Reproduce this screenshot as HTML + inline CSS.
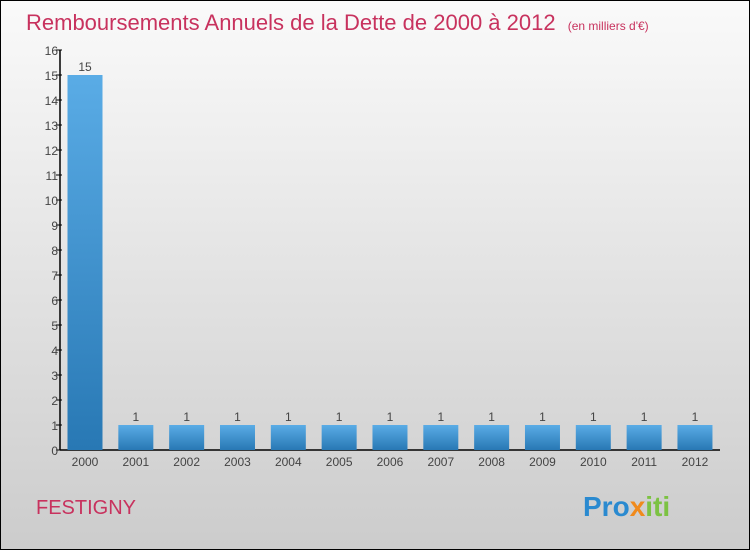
<!DOCTYPE html>
<html><head><meta charset="utf-8"><style>
body{margin:0}
#c{width:750px;height:550px;position:relative;box-sizing:border-box;border:1px solid #000;background:linear-gradient(#fafafa,#cccccc);font-family:"Liberation Sans",sans-serif;overflow:hidden}
</style></head><body>
<div id="c">
<svg width="750" height="550" style="position:absolute;left:-1px;top:-1px">
<defs><linearGradient id="g" x1="0" y1="0" x2="0" y2="1"><stop offset="0" stop-color="#5aace6"/><stop offset="1" stop-color="#2878b4"/></linearGradient></defs>
<text x="26" y="30" font-size="22" fill="#c8325e">Remboursements Annuels de la Dette de 2000 à 2012 <tspan font-size="12" dx="6">(en milliers d'€)</tspan></text>
<g id="ax"></g><g id="bars"></g>
<text x="36" y="514" font-size="20" fill="#c8325e">FESTIGNY</text>
<text x="583" y="516" font-size="28" font-weight="bold" fill="#2a8ad0">Pro<tspan fill="#f08a1c">x</tspan><tspan fill="#7cc242">iti</tspan></text>
</svg></div>
<script>
const categories=["2000","2001","2002","2003","2004","2005","2006","2007","2008","2009","2010","2011","2012"];
const values=[15,1,1,1,1,1,1,1,1,1,1,1,1];
const yTicks=[0,1,2,3,4,5,6,7,8,9,10,11,12,13,14,15,16];
const NS="http://www.w3.org/2000/svg";
const y=v=>450-v*25, x=i=>85+i*50.83;
function mk(t,a,p){const e=document.createElementNS(NS,t);for(const k in a)e.setAttribute(k,a[k]);p.appendChild(e);return e;}
const ax=document.getElementById('ax'),bg=document.getElementById('bars');
let l=mk('line',{x1:60,y1:y(16),x2:60,y2:450,stroke:'#000','stroke-width':1.5},ax);


l=mk('line',{x1:60,y1:450,x2:720,y2:450,stroke:'#000','stroke-width':1.5},ax);


yTicks.forEach(v=>{
 const t=mk('line',{x1:56,y1:y(v),x2:62,y2:y(v),stroke:'#000'},ax);
 
 
 const s=mk('text',{x:58,y:y(v)+5,'font-size':12,fill:'#444','text-anchor':'end'},ax);s.textContent=v;
 
 
});
categories.forEach((c,i)=>{
 const r=mk('rect',{x:x(i)-17.5,y:y(values[i]),width:35,height:450-y(values[i]),fill:'url(#g)'},bg);
 
 
 const v=mk('text',{x:x(i),y:y(values[i])-4,'font-size':12,fill:'#444','text-anchor':'middle'},bg);v.textContent=values[i];
 
 
 const t=mk('text',{x:x(i),y:466,'font-size':12,fill:'#444','text-anchor':'middle'},bg);t.textContent=c;
 
 
});
</script>
</body></html>
